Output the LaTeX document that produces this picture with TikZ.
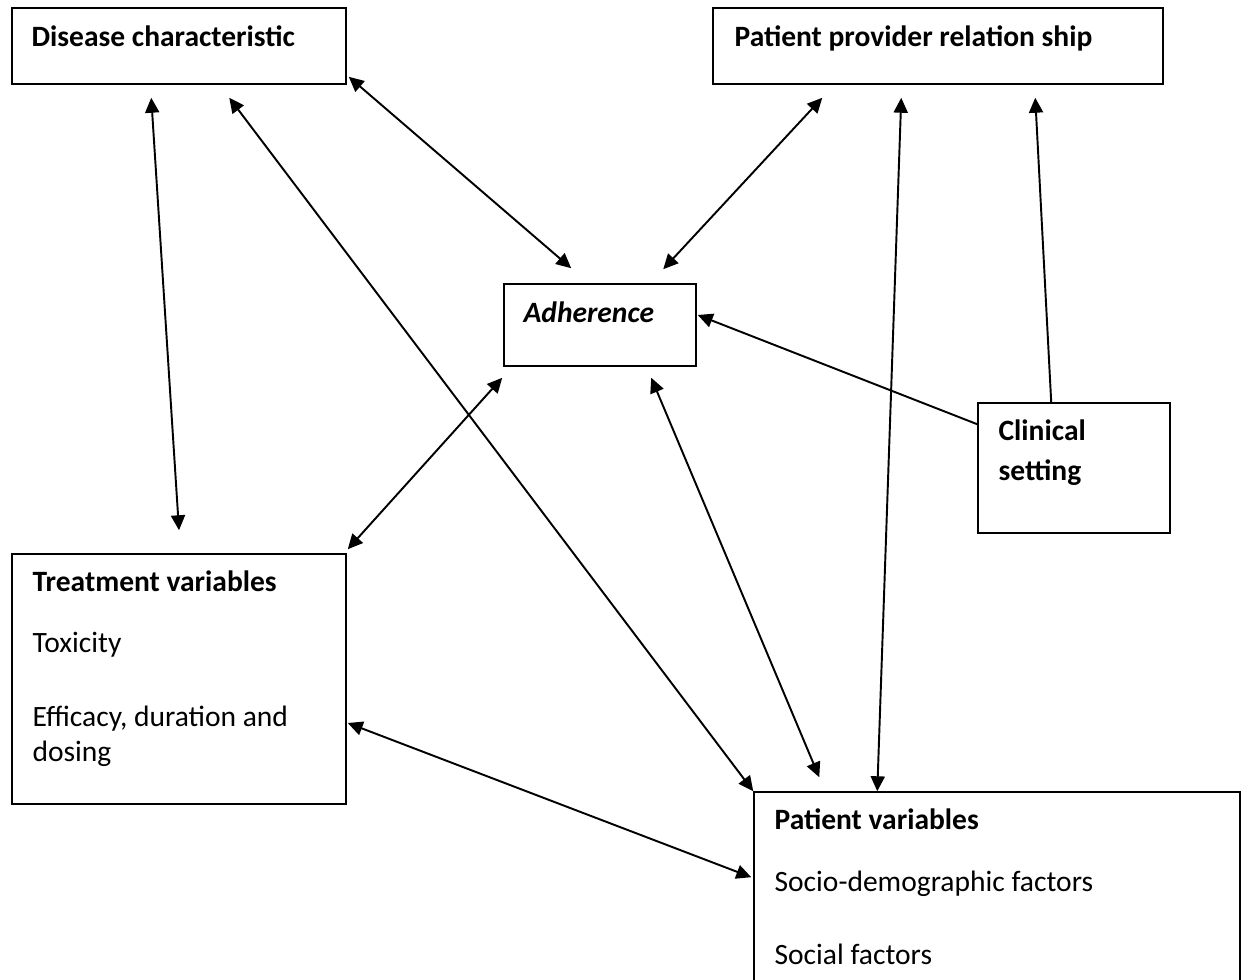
\documentclass[tikz,border=0pt]{standalone}
\usepackage{fontspec}
\setmainfont{Carlito}
\usetikzlibrary{positioning, calc, arrows.meta}
\tikzset{>={Triangle[length=8.5pt, width=8pt]}}

\begin{document}
\begin{tikzpicture}[x=0.02cm, y=-0.02cm, font=\fontsize{16.8}{20}\selectfont,
  box/.style={draw, line width=0.9pt, inner sep=0pt},
  head/.style={anchor=base west, inner sep=0pt, font=\fontsize{16.8}{20}\selectfont\bfseries},
  body/.style={anchor=base west, inner sep=0pt},
  link/.style={line width=1.1pt}]
  \useasboundingbox (0,0) rectangle (1249,980);
  \fill[white] (0,0) rectangle (1249,980);
  \clip (0,0) rectangle (1249,980);

  % Boxes
  \node[box, minimum width=6.68cm, minimum height=1.52cm] (dis) at (179,46) {};
  \node[box, minimum width=9cm, minimum height=1.52cm] (prov) at (938,46) {};
  \node[box, minimum width=3.84cm, minimum height=1.64cm] (adh) at (600,325) {};
  \node[box, minimum width=3.84cm, minimum height=2.6cm] (clin) at (1074,468) {};
  \node[box, minimum width=6.68cm, minimum height=5cm] (treat) at (179,679) {};
  \node[box, minimum width=9.72cm, minimum height=4.16cm] (pat) at (997,896) {};

  % Texts
  \node[head] (distxt) at ($(dis.north west)+(20,39)$) {Disease characteristic};
  \node[head] (provtxt) at ($(prov.north west)+(22,39)$) {Patient provider relation ship};
  \node[head, font=\fontsize{16.8}{20}\selectfont\bfseries\itshape] (adhtxt) at ($(adh.north west)+(20,39)$) {Adherence};
  \node[head] (clintxt) at ($(clin.north west)+(21,38)$) {Clinical};
  \node[head] (settxt) at ($(clintxt.base west)+(0,40)$) {setting};
  \node[head] (treattxt) at ($(treat.north west)+(21,38)$) {Treatment variables};
  \node[body] (toxtxt) at ($(treattxt.base west)+(0,61)$) {Toxicity};
  \node[body] (efftxt) at ($(toxtxt.base west)+(0,74)$) {Efficacy, duration and};
  \node[body] (dosetxt) at ($(efftxt.base west)+(0,35)$) {dosing};
  \node[head] (pattxt) at ($(pat.north west)+(21,38)$) {Patient variables};
  \node[body] (sociotxt) at ($(pattxt.base west)+(0,62)$) {Socio-demographic factors};
  \node[body] (soctxt) at ($(sociotxt.base west)+(0,73)$) {Social factors};

  % Arrows
  \draw[link, <->] ($(dis.south west)+(140,13)$) -- ($(treat.north)+(0,-23)$);
  \draw[link, <->] ($(dis.south west)+(218,13)$) -- (pat.north west);
  \draw[link, <->] ($(dis.south east)+(2,-8)$) -- ($(adh.north west)+(68,-15)$);
  \draw[link, <->] ($(prov.south west)+(110,13)$) -- ($(adh.north west)+(160,-14)$);
  \draw[link, <->] ($(prov.south west)+(189,13)$) -- ($(pat.north west)+(124,0)$);
  \draw[link, ->] ($(clin.north west)+(74,0)$) -- ($(prov.south west)+(323,13)$);
  \draw[link, ->] ($(clin.north west)+(0,22)$) -- ($(adh.east)+(1,-10)$);
  \draw[link, <->] ($(adh.south west)+(-1,11)$) -- ($(treat.north east)+(1,-4)$);
  \draw[link, <->] ($(adh.south west)+(148,11)$) -- ($(pat.north west)+(66,-14)$);
  \draw[link, <->] ($(treat.east)+(1,44)$) -- ($(pat.north west)+(-2,86)$);
\end{tikzpicture}
\end{document}
